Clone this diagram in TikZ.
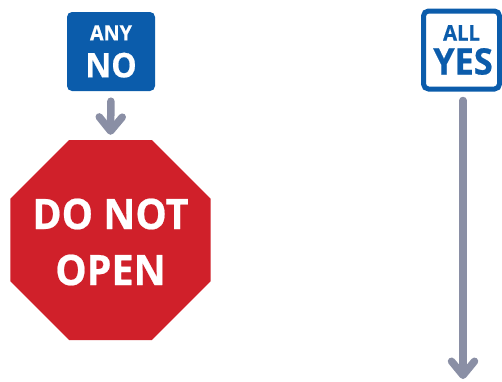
\documentclass[tikz,border=0pt]{standalone}
\usepackage{fontspec}
\setmainfont[FakeStretch=0.94,BoldFeatures={FakeStretch=0.94,FakeBold=0.5}]{Open Sans}
\usetikzlibrary{arrows.meta,shapes.geometric}
\definecolor{signblue}{HTML}{0B5CAB}
\definecolor{signred}{HTML}{D0202A}
\definecolor{flowgray}{HTML}{8A8FA5}

\begin{document}
\begin{tikzpicture}[
    x=1pt,
    y=-1pt,
    signbox/.style={
        rounded corners=5pt,
        align=center,
        inner sep=0pt,
        font=\bfseries\fontsize{34}{37}\selectfont
    },
    nobox/.style={
        signbox,
        fill=signblue,
        text=white,
        minimum width=88pt,
        minimum height=79pt
    },
    yesbox/.style={
        signbox,
        draw=signblue,
        line width=5pt,
        fill=white,
        text=signblue,
        minimum width=76pt,
        minimum height=78pt
    },
    stopsign/.style={
        regular polygon,
        regular polygon sides=8,
        minimum size=216.5pt,
        inner sep=0pt,
        fill=signred
    },
    stoptext/.style={
        text=white,
        align=center,
        inner sep=0pt,
        font=\bfseries\fontsize{42}{56}\selectfont
    },
    arrow/.style={
        -{Straight Barb[round,length=14pt,width=23pt]},
        line width=7.5pt,
        line cap=round,
        draw=flowgray
    }
]
\useasboundingbox (0,0) rectangle (502,381);
\node[nobox] (anyno) at (111,51.5) {{\fontsize{21}{37}\selectfont ANY}\\NO};
\node[yesbox] (allyes) at (461.5,50) {\raisebox{-3pt}{\fontsize{21.5}{37}\selectfont ALL}\\{\fontsize{36.5}{37}\selectfont\kern3pt YES}};
\node[stopsign] (stop) at (110.5,240) {};
\node[stoptext] (stoplabel) at ([yshift=-2pt]stop.center) {DO NOT\\OPEN};
\coordinate (yesend) at (463,379);

\draw[arrow, shorten <=10pt, shorten >=5pt] (anyno.south) -- (stop.north);
\draw[arrow, shorten <=9pt] (allyes.south -| yesend) -- (yesend);
\end{tikzpicture}
\end{document}
